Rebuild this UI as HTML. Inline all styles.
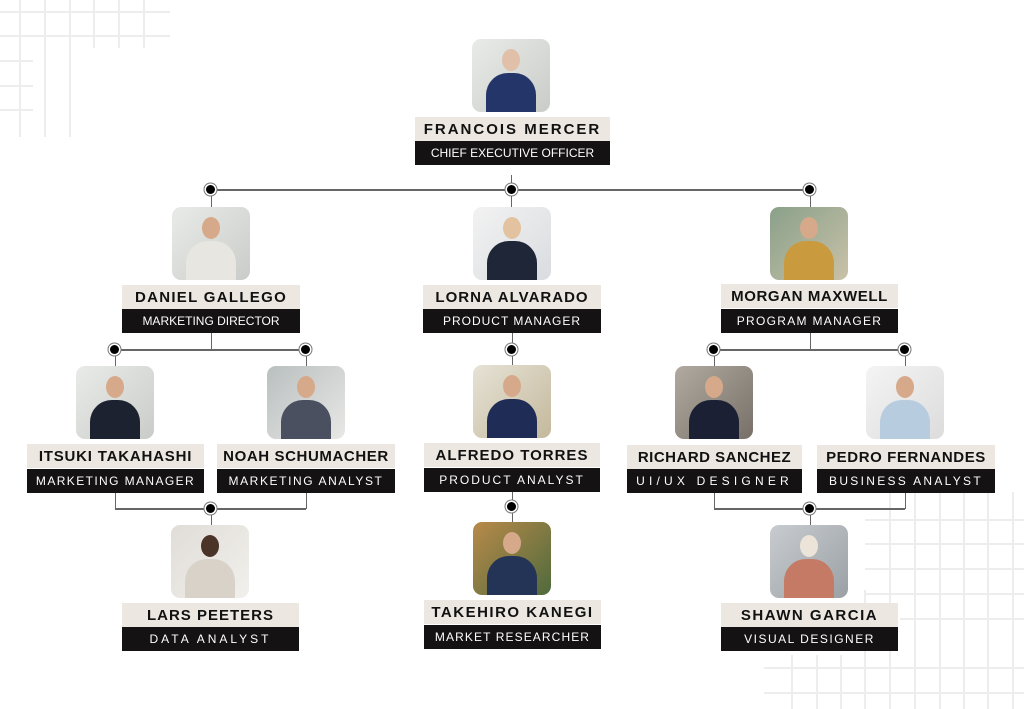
<!DOCTYPE html>
<html><head><meta charset="utf-8">
<style>
body{margin:0;width:1024px;height:709px;background:#fff;position:relative;overflow:hidden;font-family:"Liberation Sans",Arial,sans-serif}
.p{position:absolute;width:78px;height:73px;border-radius:9px;overflow:hidden;background:linear-gradient(135deg,#e9ebe8,#c9ccc8)}
.p .h{position:absolute;width:18px;height:22px;border-radius:50%;left:30px;top:10px;background:#d6a98a}
.p .b{position:absolute;width:50px;height:44px;border-radius:22px 22px 4px 4px;left:14px;top:34px;background:#2a3550}
.n{position:absolute;height:24px;background:#ece8e1;color:#111;font-weight:bold;font-size:15px;letter-spacing:1.3px;text-align:center;line-height:25px}
.t{position:absolute;height:24px;background:#141213;color:#fff;font-size:12px;letter-spacing:1.2px;text-align:center;line-height:25px}
.d{position:absolute;width:9px;height:9px;border-radius:50%;background:#000;box-shadow:0 0 0 1.5px #fff,0 0 0 2.5px #777}
.l{position:absolute;background:#666}
.g{position:absolute;background:#eeeded}
</style></head><body>
<!-- grid top-left -->
<div class="g" style="left:0;top:11px;width:170px;height:2px"></div>
<div class="g" style="left:0;top:35px;width:170px;height:2px"></div>
<div class="g" style="left:0;top:60px;width:33px;height:2px"></div>
<div class="g" style="left:0;top:85px;width:33px;height:2px"></div>
<div class="g" style="left:0;top:109px;width:33px;height:2px"></div>
<div class="g" style="left:19px;top:0;width:2px;height:137px"></div>
<div class="g" style="left:44px;top:0;width:2px;height:137px"></div>
<div class="g" style="left:69px;top:0;width:2px;height:137px"></div>
<div class="g" style="left:93px;top:0;width:2px;height:48px"></div>
<div class="g" style="left:118px;top:0;width:2px;height:48px"></div>
<div class="g" style="left:143px;top:0;width:2px;height:48px"></div>
<!-- grid bottom-right -->
<div class="g" style="left:865px;top:519px;width:159px;height:2px"></div>
<div class="g" style="left:865px;top:543px;width:159px;height:2px"></div>
<div class="g" style="left:865px;top:568px;width:159px;height:2px"></div>
<div class="g" style="left:865px;top:593px;width:159px;height:2px"></div>
<div class="g" style="left:900px;top:618px;width:124px;height:2px"></div>
<div class="g" style="left:764px;top:667px;width:260px;height:2px"></div>
<div class="g" style="left:764px;top:692px;width:260px;height:2px"></div>
<div class="g" style="left:791px;top:655px;width:2px;height:54px"></div>
<div class="g" style="left:816px;top:655px;width:2px;height:54px"></div>
<div class="g" style="left:840px;top:655px;width:2px;height:54px"></div>
<div class="g" style="left:864px;top:590px;width:2px;height:119px"></div>
<div class="g" style="left:889px;top:492px;width:2px;height:217px"></div>
<div class="g" style="left:914px;top:492px;width:2px;height:217px"></div>
<div class="g" style="left:939px;top:492px;width:2px;height:217px"></div>
<div class="g" style="left:963px;top:492px;width:2px;height:217px"></div>
<div class="g" style="left:987px;top:492px;width:2px;height:217px"></div>
<div class="g" style="left:1012px;top:492px;width:2px;height:217px"></div>

<!-- connectors -->
<div class="l" style="left:211px;top:189px;width:599px;height:2px"></div>
<div class="l" style="left:511px;top:175px;width:1px;height:32px"></div>
<div class="l" style="left:211px;top:190px;width:1px;height:17px"></div>
<div class="l" style="left:810px;top:190px;width:1px;height:17px"></div>
<div class="d" style="left:206px;top:185px"></div>
<div class="d" style="left:507px;top:185px"></div>
<div class="d" style="left:805px;top:185px"></div>

<div class="l" style="left:211px;top:333px;width:1px;height:16px"></div>
<div class="l" style="left:115px;top:349px;width:191px;height:2px"></div>
<div class="l" style="left:115px;top:350px;width:1px;height:16px"></div>
<div class="l" style="left:306px;top:350px;width:1px;height:16px"></div>
<div class="d" style="left:110px;top:345px"></div>
<div class="d" style="left:301px;top:345px"></div>
<div class="l" style="left:512px;top:333px;width:1px;height:32px"></div>
<div class="d" style="left:507px;top:345px"></div>
<div class="l" style="left:810px;top:333px;width:1px;height:16px"></div>
<div class="l" style="left:714px;top:349px;width:191px;height:2px"></div>
<div class="l" style="left:714px;top:350px;width:1px;height:16px"></div>
<div class="l" style="left:905px;top:350px;width:1px;height:16px"></div>
<div class="d" style="left:709px;top:345px"></div>
<div class="d" style="left:900px;top:345px"></div>

<div class="l" style="left:115px;top:493px;width:1px;height:16px"></div>
<div class="l" style="left:306px;top:493px;width:1px;height:16px"></div>
<div class="l" style="left:115px;top:508px;width:191px;height:2px"></div>
<div class="l" style="left:211px;top:509px;width:1px;height:16px"></div>
<div class="d" style="left:206px;top:504px"></div>
<div class="l" style="left:512px;top:491px;width:1px;height:31px"></div>
<div class="d" style="left:507px;top:502px"></div>
<div class="l" style="left:714px;top:493px;width:1px;height:16px"></div>
<div class="l" style="left:905px;top:493px;width:1px;height:16px"></div>
<div class="l" style="left:714px;top:508px;width:191px;height:2px"></div>
<div class="l" style="left:810px;top:509px;width:1px;height:16px"></div>
<div class="d" style="left:805px;top:504px"></div>

<!-- Francois -->
<div class="p" style="left:472px;top:39px"><div class="h" style="background:#e0c0a8"></div><div class="b" style="background:#24356a"></div></div>
<div class="n" style="left:415px;top:117px;width:195px;letter-spacing:2px">FRANCOIS MERCER</div>
<div class="t" style="left:415px;top:141px;width:195px;letter-spacing:0">CHIEF EXECUTIVE OFFICER</div>
<!-- Daniel -->
<div class="p" style="left:172px;top:207px"><div class="h"></div><div class="b" style="background:#e8e6e0"></div></div>
<div class="n" style="left:122px;top:285px;width:178px">DANIEL GALLEGO</div>
<div class="t" style="left:122px;top:309px;width:178px;letter-spacing:0">MARKETING DIRECTOR</div>
<!-- Lorna -->
<div class="p" style="left:473px;top:207px;background:linear-gradient(135deg,#f2f2f2,#d9dce0)"><div class="h" style="background:#e3c39f"></div><div class="b" style="background:#1e2638"></div></div>
<div class="n" style="left:423px;top:285px;width:178px;letter-spacing:1px">LORNA ALVARADO</div>
<div class="t" style="left:423px;top:309px;width:178px;letter-spacing:1px">PRODUCT MANAGER</div>
<!-- Morgan -->
<div class="p" style="left:770px;top:207px;background:linear-gradient(135deg,#8aa08a,#c9c2a8)"><div class="h"></div><div class="b" style="background:#c99b3e"></div></div>
<div class="n" style="left:721px;top:284px;width:177px;letter-spacing:0.6px">MORGAN MAXWELL</div>
<div class="t" style="left:721px;top:309px;width:177px;letter-spacing:1.3px">PROGRAM MANAGER</div>
<!-- Itsuki -->
<div class="p" style="left:76px;top:366px"><div class="h"></div><div class="b" style="background:#1d2230"></div></div>
<div class="n" style="left:27px;top:444px;width:177px;letter-spacing:0.8px">ITSUKI TAKAHASHI</div>
<div class="t" style="left:27px;top:469px;width:177px;letter-spacing:1.4px">MARKETING MANAGER</div>
<!-- Noah -->
<div class="p" style="left:267px;top:366px;background:linear-gradient(135deg,#b9bfbf,#e8e8e6)"><div class="h"></div><div class="b" style="background:#4a5060"></div></div>
<div class="n" style="left:217px;top:444px;width:178px;letter-spacing:0.6px">NOAH SCHUMACHER</div>
<div class="t" style="left:217px;top:469px;width:178px;letter-spacing:1.6px">MARKETING ANALYST</div>
<!-- Alfredo -->
<div class="p" style="left:473px;top:365px;background:linear-gradient(135deg,#e6e2d6,#c4b99c)"><div class="h"></div><div class="b" style="background:#1f2c55"></div></div>
<div class="n" style="left:424px;top:443px;width:176px;letter-spacing:1px">ALFREDO TORRES</div>
<div class="t" style="left:424px;top:468px;width:176px;letter-spacing:2px">PRODUCT ANALYST</div>
<!-- Richard -->
<div class="p" style="left:675px;top:366px;background:linear-gradient(135deg,#b0aaa0,#787068)"><div class="h"></div><div class="b" style="background:#1b2035"></div></div>
<div class="n" style="left:627px;top:445px;width:175px;letter-spacing:0.5px">RICHARD SANCHEZ</div>
<div class="t" style="left:627px;top:469px;width:175px;letter-spacing:4.2px">UI/UX DESIGNER</div>
<!-- Pedro -->
<div class="p" style="left:866px;top:366px;background:linear-gradient(135deg,#f4f4f4,#dcdcdc)"><div class="h"></div><div class="b" style="background:#b8cce0"></div></div>
<div class="n" style="left:817px;top:445px;width:178px;letter-spacing:0.6px">PEDRO FERNANDES</div>
<div class="t" style="left:817px;top:469px;width:178px;letter-spacing:2.3px">BUSINESS ANALYST</div>
<!-- Lars -->
<div class="p" style="left:171px;top:525px;background:linear-gradient(135deg,#e0ddd8,#f2f0ec)"><div class="h" style="background:#4a3428"></div><div class="b" style="background:#d9d2c8"></div></div>
<div class="n" style="left:122px;top:603px;width:177px;letter-spacing:1px">LARS PEETERS</div>
<div class="t" style="left:122px;top:627px;width:177px;letter-spacing:3px">DATA ANALYST</div>
<!-- Takehiro -->
<div class="p" style="left:473px;top:522px;background:linear-gradient(135deg,#b88a4a,#4f6a3c)"><div class="h"></div><div class="b" style="background:#243457"></div></div>
<div class="n" style="left:424px;top:600px;width:177px;letter-spacing:1.5px">TAKEHIRO KANEGI</div>
<div class="t" style="left:424px;top:625px;width:177px;letter-spacing:1.1px">MARKET RESEARCHER</div>
<!-- Shawn -->
<div class="p" style="left:770px;top:525px;background:linear-gradient(135deg,#c8ccd0,#9aa0a4)"><div class="h" style="background:#ece4d8"></div><div class="b" style="background:#c47a64"></div></div>
<div class="n" style="left:721px;top:603px;width:177px;letter-spacing:1.5px">SHAWN GARCIA</div>
<div class="t" style="left:721px;top:627px;width:177px;letter-spacing:1.5px">VISUAL DESIGNER</div>
</body></html>
